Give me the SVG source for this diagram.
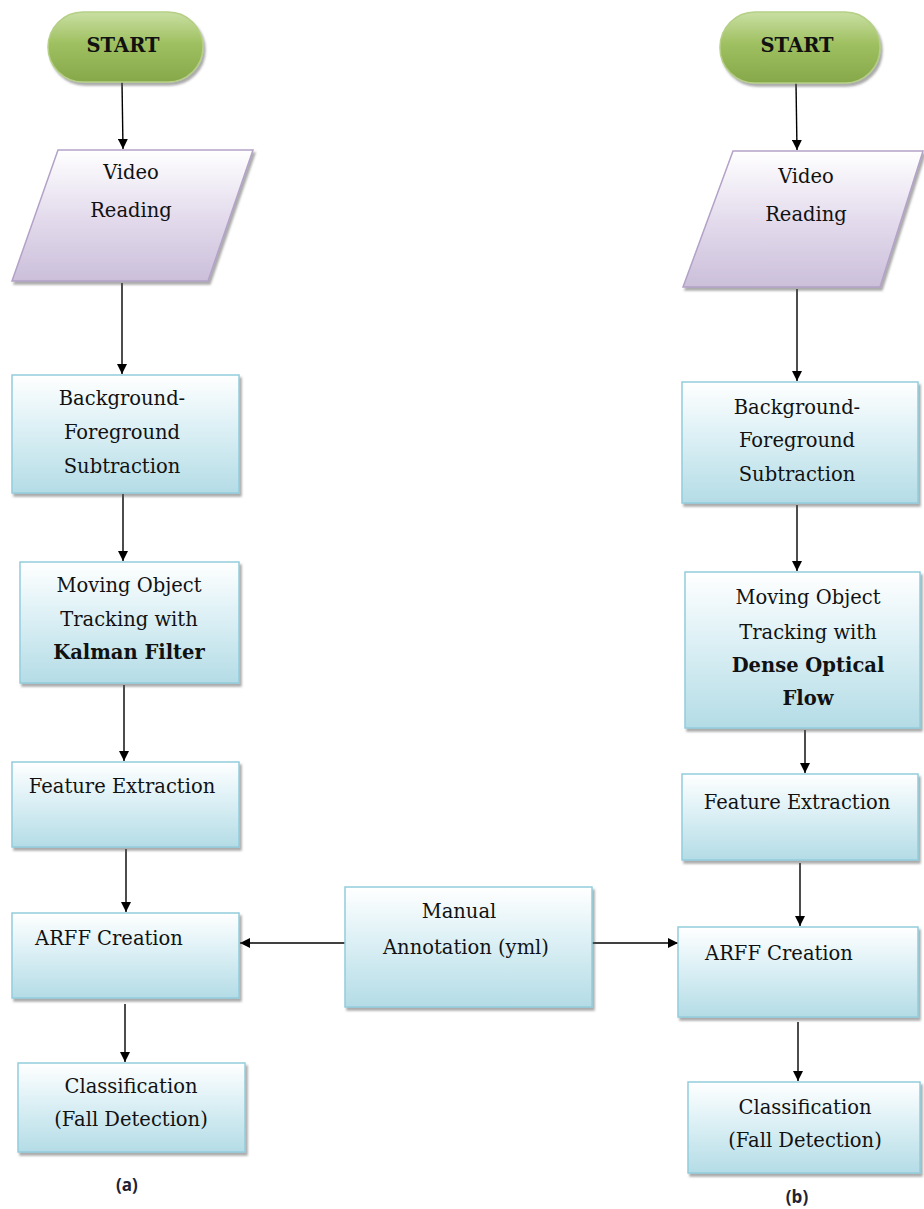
<svg xmlns="http://www.w3.org/2000/svg" width="924" height="1209" viewBox="0 0 924 1209">
<style>
.t{font-family:"DejaVu Serif","Liberation Serif",serif;font-size:19.5px;fill:#111;text-anchor:middle}
.b{font-weight:bold}
.box{fill:url(#gBox);stroke:#93cddd;stroke-width:1.5;filter:url(#sh)}
.par{fill:url(#gPar);stroke:#b3a2c7;stroke-width:1.5;filter:url(#sh)}
.start{fill:url(#gStart);stroke:#b5cf86;stroke-width:1.5;filter:url(#sh)}
.ln{stroke:#000;stroke-width:1.4;fill:none;marker-end:url(#ah)}
.cap{font-family:"Open Sans","Liberation Sans",sans-serif;font-weight:bold;font-size:17px;fill:#1f2233;text-anchor:middle}
</style>
<defs>
<linearGradient id="gBox" x1="0" y1="0" x2="0" y2="1">
<stop offset="0" stop-color="#ffffff"/><stop offset="0.45" stop-color="#dcf0f5"/><stop offset="1" stop-color="#b4dce6"/>
</linearGradient>
<linearGradient id="gPar" x1="0" y1="0" x2="0" y2="1">
<stop offset="0" stop-color="#ffffff"/><stop offset="0.5" stop-color="#e4dced"/><stop offset="1" stop-color="#cbbfda"/>
</linearGradient>
<linearGradient id="gStart" x1="0" y1="0" x2="0" y2="1">
<stop offset="0" stop-color="#c9dfa3"/><stop offset="0.45" stop-color="#9fc060"/><stop offset="1" stop-color="#86a84a"/>
</linearGradient>
<filter id="sh" x="-10%" y="-10%" width="130%" height="130%">
<feDropShadow dx="2" dy="3" stdDeviation="1.2" flood-color="#555" flood-opacity="0.5"/>
</filter>
<marker id="ah" viewBox="0 0 10 10" refX="10" refY="5" markerWidth="10" markerHeight="10" markerUnits="userSpaceOnUse" orient="auto">
<path d="M0,0 L10,5 L0,10 Z" fill="#000"/>
</marker>
</defs>

<g id="connectors">
<line class="ln" x1="122" y1="82" x2="123" y2="149"/>
<line class="ln" x1="122" y1="283" x2="122" y2="374"/>
<line class="ln" x1="123" y1="494" x2="123" y2="561"/>
<line class="ln" x1="124" y1="685" x2="124" y2="761"/>
<line class="ln" x1="126" y1="849" x2="126" y2="912"/>
<line class="ln" x1="125" y1="1004" x2="125" y2="1062"/>
<line class="ln" x1="796" y1="83" x2="797" y2="150"/>
<line class="ln" x1="797" y1="289" x2="797" y2="381"/>
<line class="ln" x1="797" y1="505" x2="797" y2="571"/>
<line class="ln" x1="805" y1="730" x2="805" y2="773"/>
<line class="ln" x1="800" y1="863" x2="800" y2="926"/>
<line class="ln" x1="798" y1="1022" x2="798" y2="1081"/>
<line class="ln" x1="345" y1="943" x2="240" y2="943"/>
<line class="ln" x1="592" y1="943" x2="678" y2="943"/>
</g>

<g id="startA">
<rect class="start" x="48" y="12" width="155" height="70" rx="35" ry="35"/>
<text class="t b" x="123" y="52" font-size="23">START</text>
</g>
<g id="videoA">
<polygon class="par" points="58,150 253,150 208,281 12,281"/>
<text class="t" x="131" y="179">Video</text>
<text class="t" x="131" y="217">Reading</text>
</g>
<g id="bgA">
<rect class="box" x="12" y="375" width="227" height="118"/>
<text class="t" x="122" y="405">Background-</text>
<text class="t" x="122" y="439">Foreground</text>
<text class="t" x="122" y="473">Subtraction</text>
</g>
<g id="trackA">
<rect class="box" x="20" y="562" width="219" height="121"/>
<text class="t" x="129" y="592">Moving Object</text>
<text class="t" x="129" y="626">Tracking with</text>
<text class="t b" x="129" y="659">Kalman Filter</text>
</g>
<g id="featA">
<rect class="box" x="12" y="762" width="227" height="85"/>
<text class="t" x="122" y="793">Feature Extraction</text>
</g>
<g id="arffA">
<rect class="box" x="12" y="913" width="227" height="85"/>
<text class="t" x="109" y="945">ARFF  Creation</text>
</g>
<g id="classA">
<rect class="box" x="18" y="1063" width="227" height="89"/>
<text class="t" x="131" y="1093">Classification</text>
<text class="t" x="131" y="1126">(Fall Detection)</text>
</g>
<g id="labelA"><text class="cap" x="127" y="1191">(a)</text></g>

<g id="manual">
<rect class="box" x="345" y="887" width="247" height="120"/>
<text class="t" x="459" y="918">Manual</text>
<text class="t" x="466" y="954">Annotation (yml)</text>
</g>

<g id="startB">
<rect class="start" x="720" y="12" width="160" height="71" rx="35" ry="35"/>
<text class="t b" x="797" y="52" font-size="23">START</text>
</g>
<g id="videoB">
<polygon class="par" points="733,151 923,151 880,287 683,287"/>
<text class="t" x="806" y="183">Video</text>
<text class="t" x="806" y="221">Reading</text>
</g>
<g id="bgB">
<rect class="box" x="682" y="382" width="236" height="121"/>
<text class="t" x="797" y="414">Background-</text>
<text class="t" x="797" y="447">Foreground</text>
<text class="t" x="797" y="481">Subtraction</text>
</g>
<g id="trackB">
<rect class="box" x="685" y="572" width="235" height="156"/>
<text class="t" x="808" y="604">Moving Object</text>
<text class="t" x="808" y="639">Tracking with</text>
<text class="t b" x="808" y="672">Dense Optical</text>
<text class="t b" x="808" y="705">Flow</text>
</g>
<g id="featB">
<rect class="box" x="682" y="774" width="236" height="86"/>
<text class="t" x="797" y="809">Feature Extraction</text>
</g>
<g id="arffB">
<rect class="box" x="678" y="927" width="240" height="90"/>
<text class="t" x="779" y="960">ARFF  Creation</text>
</g>
<g id="classB">
<rect class="box" x="688" y="1082" width="232" height="91"/>
<text class="t" x="805" y="1114">Classification</text>
<text class="t" x="805" y="1147">(Fall Detection)</text>
</g>
<g id="labelB"><text class="cap" x="797" y="1203">(b)</text></g>
</svg>
